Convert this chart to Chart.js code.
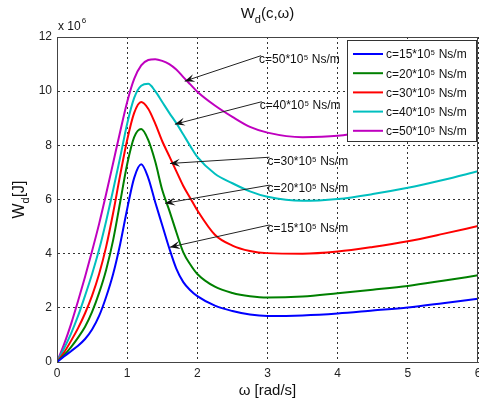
<!DOCTYPE html>
<html>
<head>
<meta charset="utf-8">
<script src="https://cdn.jsdelivr.net/npm/chart.js@4.4.0/dist/chart.umd.min.js"></script>
<style>
  html, body { margin: 0; padding: 0; background: #fff; }
  #wrap { width: 479px; height: 403px; }
</style>
</head>
<body>
<div id="wrap"><canvas id="grafico"></canvas></div>
<script>
// omega [rad/s]
const omega = [0, 0.1, 0.2, 0.3, 0.4, 0.5, 0.6, 0.7, 0.8, 0.9, 1.0, 1.1, 1.2, 1.3, 1.4, 1.5, 1.6, 1.7, 1.8, 1.9,
  2.0, 2.25, 2.5, 2.75, 3.0, 3.5, 4.0, 4.5, 5.0, 5.5, 6.0];

// Wd values, x 10^6 J
const w15 = [0, 0.2, 0.4, 0.6, 0.85, 1.2, 1.7, 2.4, 3.25, 4.35, 5.65, 6.8, 7.3, 6.8, 5.9, 5.05, 4.2, 3.45, 2.95, 2.65,
  2.43, 2.08, 1.88, 1.75, 1.70, 1.72, 1.79, 1.90, 2.01, 2.17, 2.34];
const w20 = [0, 0.25, 0.55, 0.9, 1.3, 1.85, 2.55, 3.4, 4.5, 5.9, 7.3, 8.3, 8.6, 8.2, 7.4, 6.35, 5.6, 4.8, 4.05, 3.6,
  3.25, 2.78, 2.55, 2.43, 2.38, 2.42, 2.54, 2.67, 2.81, 3.0, 3.2];
const w30 = [0, 0.35, 0.78, 1.25, 1.8, 2.45, 3.25, 4.25, 5.5, 6.9, 8.2, 9.2, 9.6, 9.35, 8.8, 8.15, 7.6, 7.05, 6.5, 6.05,
  5.6, 4.7, 4.3, 4.1, 4.02, 4.0, 4.08, 4.25, 4.46, 4.73, 5.02];
const w40 = [0, 0.5, 1.05, 1.7, 2.45, 3.25, 4.15, 5.2, 6.35, 7.55, 8.8, 9.75, 10.2, 10.27, 10.0, 9.6, 9.2, 8.82, 8.4, 7.97,
  7.57, 6.95, 6.6, 6.3, 6.1, 5.95, 6.02, 6.2, 6.43, 6.72, 7.04];
const w50 = [0, 0.65, 1.4, 2.25, 3.15, 4.1, 5.1, 6.2, 7.35, 8.5, 9.6, 10.45, 10.95, 11.15, 11.18, 11.12, 11.0, 10.8, 10.52, 10.25,
  9.98, 9.47, 9.05, 8.68, 8.47, 8.3, 8.35, 8.55, 8.8, 9.1, 9.42];

const seriesLabels = ['c=15*10⁵ Ns/m', 'c=20*10⁵ Ns/m', 'c=30*10⁵ Ns/m', 'c=40*10⁵ Ns/m', 'c=50*10⁵ Ns/m'];
const seriesColors = ['#0000ff', '#008000', '#ff0000', '#00bfbf', '#bf00bf'];

const xTicks = [0, 1, 2, 3, 4, 5, 6];
const yTicks = [0, 2, 4, 6, 8, 10, 12];

// arrow annotations: text anchor and arrow tip in data units
const noteText = ['c=50*10⁵ Ns/m', 'c=40*10⁵ Ns/m', 'c=30*10⁵ Ns/m', 'c=20*10⁵ Ns/m', 'c=15*10⁵ Ns/m'];
const noteAt = [[2.88, 11.2], [2.89, 9.5], [3.0, 7.45], [3.0, 6.42], [3.0, 4.95]];
const noteTip = [[1.82, 10.37], [1.68, 8.78], [1.61, 7.33], [1.54, 5.86], [1.61, 4.24]];

const FONT = '"Liberation Sans", Arial, sans-serif';

function pts(ys) {
  return omega.map((x, i) => ({ x: x, y: ys[i] }));
}

const allSeries = [w15, w20, w30, w40, w50];

function seta(ctx, x1, y1, x2, y2) {
  ctx.beginPath();
  ctx.moveTo(x1, y1);
  ctx.lineTo(x2, y2);
  ctx.stroke();
  const ang = Math.atan2(y2 - y1, x2 - x1);
  const L = 10, W = 4;
  const bx = x2 - L * Math.cos(ang), by = y2 - L * Math.sin(ang);
  const nx = -Math.sin(ang), ny = Math.cos(ang);
  const mx = x2 - 0.6 * L * Math.cos(ang), my = y2 - 0.6 * L * Math.sin(ang);
  ctx.beginPath();
  ctx.moveTo(x2, y2);
  ctx.lineTo(bx + nx * W, by + ny * W);
  ctx.lineTo(mx, my);
  ctx.lineTo(bx - nx * W, by - ny * W);
  ctx.closePath();
  ctx.fill();
}

const extras = {
  id: 'extras',
  afterDatasetsDraw(chart) {
    const ctx = chart.ctx;
    const a = chart.chartArea;
    const xs = chart.scales.x, ys = chart.scales.y;
    ctx.save();

    // annotations
    ctx.strokeStyle = '#222';
    ctx.fillStyle = '#111';
    ctx.lineWidth = 1;
    ctx.font = '12px ' + FONT;
    ctx.textBaseline = 'middle';
    ctx.textAlign = 'left';
    noteText.forEach((t, i) => {
      const tx = xs.getPixelForValue(noteAt[i][0]);
      const ty = ys.getPixelForValue(noteAt[i][1]);
      const px = xs.getPixelForValue(noteTip[i][0]);
      const py = ys.getPixelForValue(noteTip[i][1]);
      seta(ctx, tx + 2, ty - 3, px, py);
      ctx.fillStyle = '#111';
      ctx.fillText(t, tx, ty + 1);
    });

    // legend box
    const lx = a.right - 131, ly = a.top + 3, lw = 129, lh = 101;
    ctx.fillStyle = '#fff';
    ctx.fillRect(lx, ly, lw, lh);
    ctx.strokeStyle = '#333';
    ctx.lineWidth = 1;
    ctx.strokeRect(lx + 0.5, ly + 0.5, lw, lh);
    seriesLabels.forEach((lab, i) => {
      const yy = ly + 14 + i * 19.2;
      ctx.strokeStyle = seriesColors[i];
      ctx.lineWidth = 2;
      ctx.beginPath();
      ctx.moveTo(lx + 6, yy);
      ctx.lineTo(lx + 36, yy);
      ctx.stroke();
      ctx.fillStyle = '#111';
      ctx.fillText(lab, lx + 39, yy + 1);
    });

    // frame
    ctx.strokeStyle = '#444';
    ctx.lineWidth = 1;
    ctx.strokeRect(Math.round(a.left) + 0.5, Math.round(a.top) + 0.5,
      Math.round(a.right - a.left) - 1, Math.round(a.bottom - a.top));

    // title W_d(c,w)
    const cx = (a.left + a.right) / 2;
    ctx.fillStyle = '#111';
    ctx.textAlign = 'left';
    ctx.font = '15px ' + FONT;
    const wW = ctx.measureText('W').width;
    ctx.font = '11px ' + FONT;
    const dW = ctx.measureText('d').width;
    ctx.font = '15px ' + FONT;
    const restW = ctx.measureText('(c,ω)').width;
    let x0 = cx - (wW + dW + restW) / 2;
    ctx.fillText('W', x0, 14);
    ctx.font = '11px ' + FONT;
    ctx.fillText('d', x0 + wW, 20);
    ctx.font = '15px ' + FONT;
    ctx.fillText('(c,ω)', x0 + wW + dW, 14);

    // x 10^6
    ctx.font = '12px ' + FONT;
    ctx.fillText('x 10', a.left + 1, a.top - 10);
    const w10 = ctx.measureText('x 10').width;
    ctx.font = '8px ' + FONT;
    ctx.fillText('6', a.left + 2 + w10, a.top - 16);

    // x axis label
    ctx.font = '15px ' + FONT;
    ctx.textAlign = 'center';
    ctx.fillText('ω [rad/s]', cx, 391);

    // y axis label, rotated
    ctx.translate(20, (a.top + a.bottom) / 2);
    ctx.rotate(-Math.PI / 2);
    ctx.font = '16px ' + FONT;
    const yW = ctx.measureText('W').width;
    ctx.font = '11px ' + FONT;
    const yd = ctx.measureText('d').width;
    ctx.font = '16px ' + FONT;
    const yJ = ctx.measureText('[J]').width;
    let y0 = -(yW + yd + yJ) / 2;
    ctx.textAlign = 'left';
    ctx.fillText('W', y0, 0);
    ctx.font = '11px ' + FONT;
    ctx.fillText('d', y0 + yW, 6);
    ctx.font = '16px ' + FONT;
    ctx.fillText('[J]', y0 + yW + yd, 0);

    ctx.restore();
  }
};

const ctx = document.getElementById('grafico').getContext('2d');
const chart = new Chart(ctx, {
  type: 'line',
  data: {
    datasets: allSeries.map((s, i) => ({
      label: seriesLabels[i],
      data: pts(s),
      borderColor: seriesColors[i],
      borderWidth: 2,
      fill: false,
      pointRadius: 0,
      cubicInterpolationMode: 'monotone'
    }))
  },
  options: {
    animation: false,
    responsive: true,
    maintainAspectRatio: false,
    layout: { padding: { top: 37, right: 1, left: 0, bottom: 0 } },
    scales: {
      x: {
        type: 'linear',
        min: 0,
        max: 6,
        afterBuildTicks: (s) => { s.ticks = xTicks.map(v => ({ value: v })); },
        afterFit: (s) => { s.height = 41; s.paddingLeft = 0; s.paddingRight = 0; },
        ticks: { color: '#222', font: { size: 12, family: FONT }, padding: 4, maxRotation: 0 },
        grid: { color: '#333', lineWidth: 1, drawTicks: false },
        border: { color: '#444', width: 1, dash: [2, 3] }
      },
      y: {
        min: 0,
        max: 12,
        afterBuildTicks: (s) => { s.ticks = yTicks.map(v => ({ value: v })); },
        afterFit: (s) => { s.width = 57; s.paddingTop = 0; s.paddingBottom = 0; },
        ticks: { color: '#222', font: { size: 12, family: FONT }, padding: 5 },
        grid: { color: '#333', lineWidth: 1, drawTicks: false },
        border: { color: '#444', width: 1, dash: [2, 3] }
      }
    },
    plugins: {
      legend: { display: false },
      tooltip: { enabled: false }
    }
  },
  plugins: [extras]
});
</script>
</body>
</html>
